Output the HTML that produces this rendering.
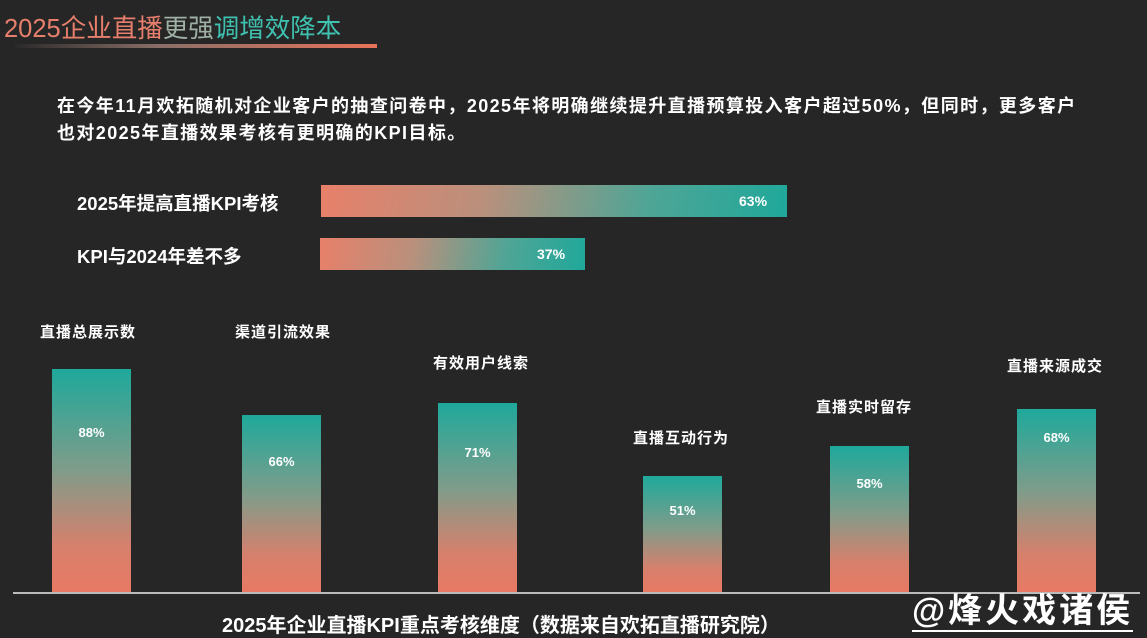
<!DOCTYPE html><html><head><meta charset="utf-8"><style>
body{margin:0;width:1147px;height:638px;background:#262626;position:relative;overflow:hidden;font-family:"Liberation Sans","Noto Sans CJK SC",sans-serif;color:#fff}
.a{position:absolute;white-space:nowrap}
.hb{position:absolute;background:linear-gradient(100deg,#e8806a 0%,#b9907c 35%,#4fa596 70%,#1fa89a 100%)}
.vb{position:absolute;width:79px;bottom:46px;background:linear-gradient(180deg,#1ea99b 0%,#7f9c8a 45%,#d7806c 80%,#e87a64 100%)}
.v{font-size:13px;font-weight:bold;text-align:center;width:79px}
.l{font-size:15px;font-weight:bold;letter-spacing:1px}
</style></head><body>
<div class="a" style="left:4px;top:8px;font-size:25.5px;"><span style="color:#e87f6c">2025企业直播</span><span style="color:#9fb0a4">更强</span><span style="color:#3fc1b0">调增效降本</span></div>
<div class="a" style="left:15px;top:44px;width:362px;height:4px;background:linear-gradient(90deg,#2a2a2a,#8a6f68 40%,#e9735a)"></div>
<div class="a" style="left:57px;top:93px;font-size:18px;letter-spacing:1.4px;font-weight:bold;line-height:27px">在今年11月欢拓随机对企业客户的抽查问卷中，2025年将明确继续提升直播预算投入客户超过50%，但同时，更多客户<br>也对2025年直播效果考核有更明确的KPI目标。</div>
<div class="a" style="left:77px;top:190px;font-size:18.5px;font-weight:bold">2025年提高直播KPI考核</div>
<div class="a" style="left:77px;top:243px;font-size:18.5px;font-weight:bold">KPI与2024年差不多</div>
<div class="hb" style="left:321px;top:185px;width:466px;height:32px"></div>
<div class="a" style="left:739px;top:193px;font-size:14px;font-weight:bold">63%</div>
<div class="hb" style="left:320px;top:238px;width:265px;height:32px"></div>
<div class="a" style="left:537px;top:246px;font-size:14px;font-weight:bold">37%</div>

<div class="vb" style="left:52px;top:369px"></div><div class="a v" style="left:52px;top:425px">88%</div>
<div class="vb" style="left:242px;top:415px"></div><div class="a v" style="left:242px;top:454px">66%</div>
<div class="vb" style="left:438px;top:403px"></div><div class="a v" style="left:438px;top:445px">71%</div>
<div class="vb" style="left:643px;top:476px"></div><div class="a v" style="left:643px;top:503px">51%</div>
<div class="vb" style="left:830px;top:446px"></div><div class="a v" style="left:830px;top:476px">58%</div>
<div class="vb" style="left:1017px;top:409px"></div><div class="a v" style="left:1017px;top:430px">68%</div>

<div class="a l" style="left:40px;top:321px">直播总展示数</div>
<div class="a l" style="left:235px;top:321px">渠道引流效果</div>
<div class="a l" style="left:433px;top:352px">有效用户线索</div>
<div class="a l" style="left:633px;top:427px">直播互动行为</div>
<div class="a l" style="left:816px;top:396px">直播实时留存</div>
<div class="a l" style="left:1007px;top:355px">直播来源成交</div>
<div class="a" style="left:13px;top:592px;width:1127px;height:2px;background:#bbb"></div>
<div class="a" style="left:222px;top:609px;font-size:20px;font-weight:bold">2025年企业直播KPI重点考核维度（数据来自欢拓直播研究院）</div>
<div class="a" style="left:912px;top:592px;font-size:34px;letter-spacing:3px;font-weight:bold;border-bottom:2px solid #fff;line-height:38px">@烽火戏诸侯</div>
</body></html>
